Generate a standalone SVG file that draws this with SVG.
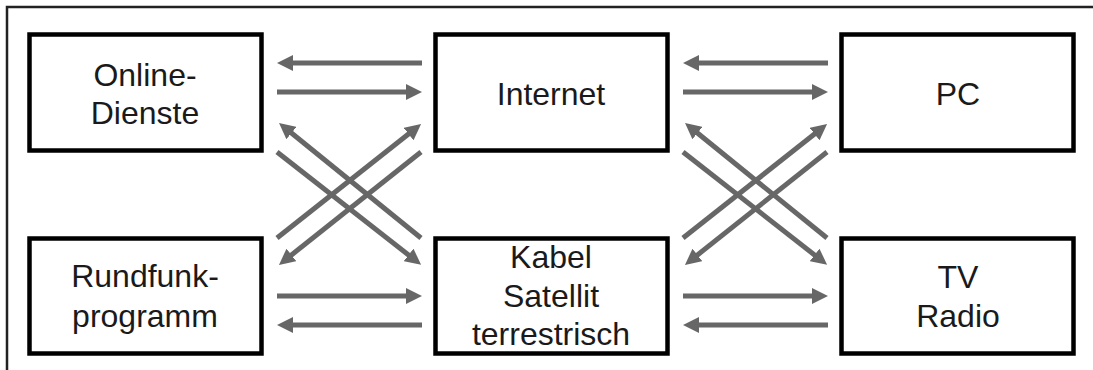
<svg xmlns="http://www.w3.org/2000/svg" width="1093" height="370" viewBox="0 0 1093 370">
<defs>
<marker id="ah" markerUnits="userSpaceOnUse" markerWidth="16" markerHeight="16" refX="2" refY="8" orient="auto">
<path d="M0,0 L16,8 L0,16 Z" fill="#676767"/>
</marker>
<style>
.box{fill:#fff;stroke:#000;stroke-width:4.5}
.t{font-family:"Liberation Sans",Arial,sans-serif;font-size:32px;fill:#1a1a1a;text-anchor:middle}
.c{stroke:#676767;stroke-width:5;fill:none;marker-end:url(#ah)}
</style>
</defs>
<rect width="1093" height="370" fill="#fff"/>
<path d="M7,370 V7 H1093" fill="none" stroke="#222" stroke-width="2.5"/>
<g id="online-dienste"><rect class="box" x="29.5" y="34.5" width="232" height="116"/><text class="t" x="145" y="86">Online-</text><text class="t" x="145" y="124">Dienste</text></g>
<g id="internet"><rect class="box" x="435.5" y="34.5" width="232" height="116"/><text class="t" x="551" y="105">Internet</text></g>
<g id="pc"><rect class="box" x="841.5" y="34.5" width="232" height="116"/><text class="t" x="958" y="105">PC</text></g>
<g id="rundfunkprogramm"><rect class="box" x="29.5" y="238.5" width="232" height="115"/><text class="t" x="145" y="287">Rundfunk-</text><text class="t" x="145" y="327">programm</text></g>
<g id="kabel-satellit"><rect class="box" x="435.5" y="238.5" width="232" height="115"/><text class="t" x="551" y="268">Kabel</text><text class="t" x="551" y="307">Satellit</text><text class="t" x="551" y="345">terrestrisch</text></g>
<g id="tv-radio"><rect class="box" x="841.5" y="238.5" width="232" height="115"/><text class="t" x="958" y="288">TV</text><text class="t" x="958" y="327">Radio</text></g>
<g id="connectors">
<line class="c" x1="422" y1="63" x2="291" y2="63"/>
<line class="c" x1="277" y1="92" x2="408" y2="92"/>
<line class="c" x1="421" y1="238" x2="289.9" y2="131.8"/>
<line class="c" x1="277" y1="152" x2="410.1" y2="256.2"/>
<line class="c" x1="277" y1="238" x2="410.1" y2="132.8"/>
<line class="c" x1="421" y1="152" x2="289.9" y2="256.2"/>
<line class="c" x1="277" y1="296" x2="408" y2="296"/>
<line class="c" x1="422" y1="325" x2="291" y2="325"/>
<line class="c" x1="828" y1="63" x2="697" y2="63"/>
<line class="c" x1="683" y1="92" x2="814" y2="92"/>
<line class="c" x1="827" y1="238" x2="695.9" y2="131.8"/>
<line class="c" x1="683" y1="152" x2="816.1" y2="256.2"/>
<line class="c" x1="683" y1="238" x2="816.1" y2="132.8"/>
<line class="c" x1="827" y1="152" x2="695.9" y2="256.2"/>
<line class="c" x1="683" y1="296" x2="814" y2="296"/>
<line class="c" x1="828" y1="325" x2="697" y2="325"/>
</g>
</svg>
